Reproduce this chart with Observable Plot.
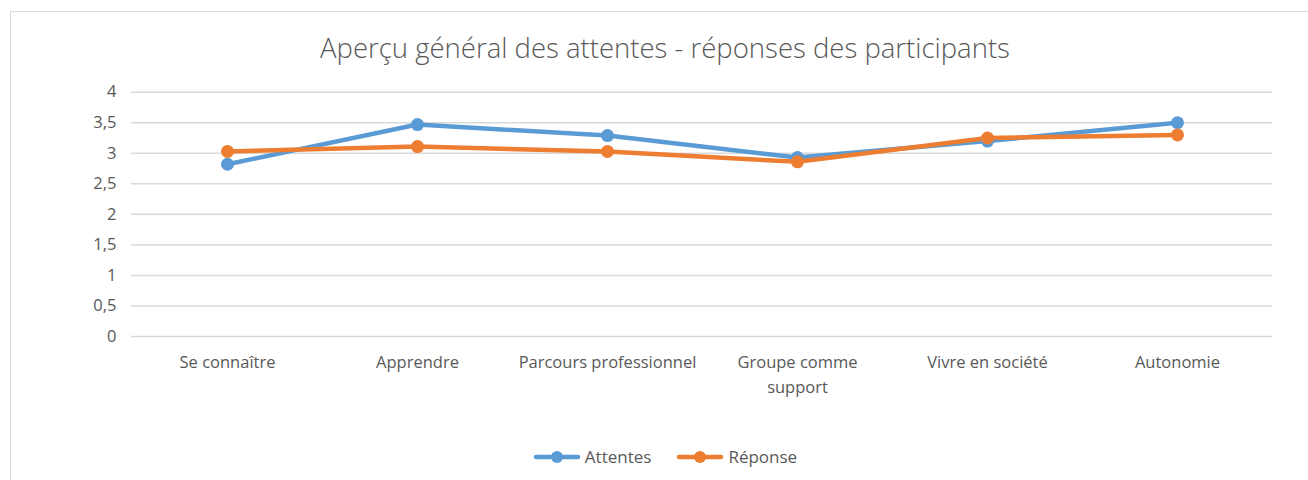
<!DOCTYPE html>
<html>
<head>
<meta charset="utf-8">
<script src="https://cdn.jsdelivr.net/npm/d3@7"></script>
<script src="https://cdn.jsdelivr.net/npm/@observablehq/plot@0.6"></script>
<style>
  html, body { margin: 0; padding: 0; background: #fff; }
  #wrap { position: relative; width: 1308px; height: 480px; overflow: hidden; font-family: "Open Sans", "Noto Sans", sans-serif; color: #595959; }
  #frame { position: absolute; left: 10px; top: 11px; width: 1400px; height: 600px; border-left: 1.5px solid #d9d9d9; border-top: 1.5px solid #d9d9d9; box-sizing: border-box; }
  #title { position: absolute; left: 0; width: 1330px; top: 29px; text-align: center; font-size: 27.5px; font-weight: 300; color: #595959; line-height: 38px; white-space: nowrap; }
  #chart { position: absolute; left: 0; top: 0; }
  #legend { position: absolute; top: 446px; left: 0; width: 1330px; display: flex; justify-content: center; gap: 25px; font-size: 17px; color: #595959; line-height: 22px; }
  .item { display: flex; align-items: center; gap: 4px; }
</style>
</head>
<body>
<div id="wrap">
  <div id="frame"></div>
  <div id="title">Aperçu général des attentes - réponses des participants</div>
  <div id="chart"></div>
  <div id="legend"></div>
</div>
<script>
const categories = ["Se connaître", "Apprendre", "Parcours professionnel", "Groupe comme support", "Vivre en société", "Autonomie"];
const xTickLabels = ["Se connaître", "Apprendre", "Parcours professionnel", "Groupe comme\nsupport", "Vivre en société", "Autonomie"];
const seriesNames = ["Attentes", "Réponse"];
const attentes = [2.82, 3.47, 3.29, 2.93, 3.20, 3.50];
const reponse = [3.03, 3.11, 3.03, 2.86, 3.25, 3.30];
const yTicks = [0, 0.5, 1, 1.5, 2, 2.5, 3, 3.5, 4];
const colors = ["#5B9BD5", "#ED7D31"];

const rows = [];
[attentes, reponse].forEach((vals, si) => {
  vals.forEach((v, i) => rows.push({ cat: categories[i], value: v, series: seriesNames[si] }));
});
const labelOf = new Map(categories.map((c, i) => [c, xTickLabels[i]]));
const fmt = d => String(d).replace(".", ",");

const chart = Plot.plot({
  width: 1308,
  height: 420,
  marginTop: 91.7,
  marginBottom: 84,
  marginLeft: 131,
  marginRight: 36,
  style: { fontFamily: '"Open Sans", "Noto Sans", sans-serif', fontSize: "16.5px", color: "#595959", background: "transparent", overflow: "visible" },
  x: { type: "point", domain: categories, padding: 0.5 },
  y: { domain: [0, 4] },
  color: { domain: seriesNames, range: colors },
  marks: [
    Plot.ruleY(yTicks, { stroke: "#d9d9d9", strokeWidth: 1.5 }),
    Plot.axisY({ ticks: yTicks, tickFormat: fmt, tickSize: 0, tickPadding: 15, fontSize: 16.5, fill: "#595959", label: null }),
    Plot.axisX({ tickFormat: d => labelOf.get(d), tickSize: 0, tickPadding: 14, fontSize: 16.5, fill: "#595959", lineHeight: 1.5, label: null }),
    Plot.line(rows, { x: "cat", y: "value", z: "series", stroke: "series", strokeWidth: 4.5, strokeLinejoin: "round", strokeLinecap: "round" }),
    Plot.dot(rows, { x: "cat", y: "value", fill: "series", r: 6.5, stroke: null })
  ]
});
document.getElementById("chart").appendChild(chart);

const legend = document.getElementById("legend");
seriesNames.forEach((name, i) => {
  const item = document.createElement("div");
  item.className = "item";
  item.innerHTML = `<svg width="48" height="14"><line x1="3" x2="45" y1="7" y2="7" stroke="${colors[i]}" stroke-width="4.5" stroke-linecap="round"/><circle cx="24" cy="7" r="6" fill="${colors[i]}"/></svg><span>${name}</span>`;
  legend.appendChild(item);
});
</script>
</body>
</html>
